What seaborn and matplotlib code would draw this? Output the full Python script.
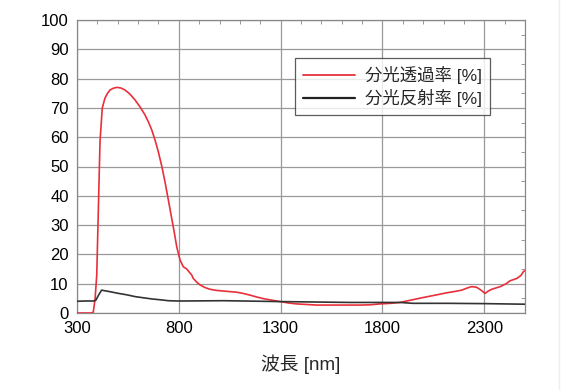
import matplotlib
matplotlib.use("Agg")
import matplotlib.pyplot as plt
import seaborn as sns
import pandas as pd
from matplotlib.ticker import MultipleLocator
from matplotlib.lines import Line2D

# Transmittance (red)
trans_nm = [300, 370, 380, 389, 397, 405, 413, 424, 437, 450, 462, 478, 495, 515, 536, 560, 585,
            610, 634, 650, 667, 683, 699, 716, 732, 748, 765, 778, 790, 806, 822, 839, 847, 863,
            871, 887, 904, 928, 953, 985, 1019, 1050, 1084, 1115, 1150, 1180, 1215, 1255, 1297,
            1340, 1379, 1430, 1477, 1560, 1641, 1690, 1740, 1788, 1840, 1886, 1940, 2001, 2060,
            2116, 2160, 2189, 2215, 2238, 2262, 2284, 2304, 2320, 2337, 2378, 2405, 2427, 2460,
            2480, 2492, 2500]
trans_val = [0, 0, 0.3, 5, 13, 35.7, 58.5, 69.9, 73.3, 75.0, 76.1, 76.7, 77.0, 76.8, 76.1, 74.7,
             72.7, 70.3, 67.6, 65.3, 62.5, 59.1, 55.1, 50.2, 44.8, 38.8, 32.3, 27.4, 22.5, 18.1,
             15.8, 15.0, 14.3, 13.0, 11.8, 10.6, 9.6, 8.7, 8.1, 7.7, 7.5, 7.3, 7.1, 6.7, 6.1,
             5.5, 4.9, 4.4, 3.9, 3.4, 3.1, 2.9, 2.7, 2.7, 2.7, 2.7, 2.8, 3.1, 3.3, 3.6, 4.4,
             5.3, 6.1, 6.9, 7.4, 7.8, 8.5, 9.0, 8.8, 7.8, 6.7, 7.5, 8.1, 9.0, 9.9, 11.0, 11.8,
             12.8, 14.1, 14.5]

# Reflectance (black)
refl_nm = [300, 339, 380, 392, 405, 421, 460, 503, 545, 585, 625, 667, 710, 748, 790, 830,
           1020, 1297, 1641, 1790, 1886, 1950, 2119, 2300, 2500]
refl_val = [4.0, 4.1, 4.1, 4.3, 6.0, 7.8, 7.3, 6.7, 6.2, 5.6, 5.2, 4.8, 4.5, 4.2, 4.1, 4.1,
            4.2, 3.9, 3.6, 3.6, 3.6, 3.3, 3.3, 3.2, 3.0]

labels = ["分光透過率 [%]", "分光反射率 [%]"]
x_ticks = [300, 800, 1300, 1800, 2300]
y_ticks = list(range(0, 101, 10))

sns.set_style("white")
plt.rcParams['font.family'] = ['Liberation Sans', 'Noto Sans CJK JP', 'DejaVu Sans']

fig = plt.figure(figsize=(5.85, 3.9), dpi=100)
ax = fig.add_axes([77/585, 1-313/390, (525-77)/585, (313-20)/390])

df_t = pd.DataFrame({"nm": trans_nm, "v": trans_val})
df_r = pd.DataFrame({"nm": refl_nm, "v": refl_val})
sns.lineplot(data=df_t, x="nm", y="v", ax=ax, color="#e8303a", lw=1.2, zorder=3)
sns.lineplot(data=df_r, x="nm", y="v", ax=ax, color="#333333", lw=1.2, zorder=3)

ax.set_xlim(300, 2500)
ax.set_ylim(0, 100)
ax.set_xticks(x_ticks)
ax.set_yticks(y_ticks)
ax.xaxis.set_minor_locator(MultipleLocator(100))
ax.yaxis.set_minor_locator(MultipleLocator(5))
ax.tick_params(which="both", direction="in", top=True, right=True, color="#888888",
               labelsize=12, labelcolor="black", pad=6)
ax.tick_params(which="major", length=0)
ax.tick_params(which="minor", length=3)
ax.grid(True, which="major", color="#999999", lw=0.9)
for s in ax.spines.values():
    s.set_color("#888888")
    s.set_linewidth(0.9)
ax.set_ylabel("")
ax.set_xlabel("波長 [nm]", fontsize=13.5, labelpad=13)

handles = [Line2D([], [], color="#e8303a", lw=1.3), Line2D([], [], color="#222222", lw=1.6)]
leg = ax.legend(handles, labels, loc="upper left", bbox_to_anchor=((295-77)/448, 1-(58-20)/293),
                fontsize=12.5, frameon=True, fancybox=False, edgecolor="#333333",
                handlelength=3.0, borderpad=0.45, labelspacing=0.3, handletextpad=0.6,
                borderaxespad=0)
leg.get_frame().set_linewidth(0.9)

fig.add_artist(Line2D([559/585, 559/585], [0, 1], color="#eeeeee", lw=1))

fig.savefig("out.png", dpi=100)
